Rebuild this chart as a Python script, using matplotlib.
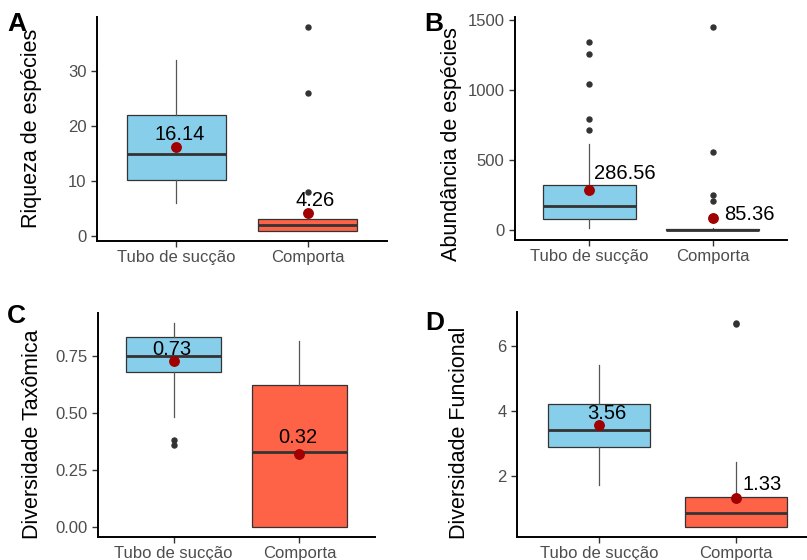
import matplotlib
matplotlib.use("Agg")
import matplotlib.pyplot as plt

plt.rcParams["font.family"] = ["Liberation Sans", "DejaVu Sans"]

groups = ["Tubo de sucção", "Comporta"]
box_colors = ["#87CEEB", "#FF6347"]

# five-number summaries per panel: (whislo, q1, med, q3, whishi) for each group
riqueza_stats = [(6.0, 10.2, 15.0, 22.0, 32.0), (1.0, 1.0, 2.0, 3.1, 4.0)]
riqueza_fliers = [[], [8.0, 26.0, 38.0]]
riqueza_means = [16.14, 4.26]

abund_stats = [(20.0, 85.0, 178.0, 326.0, 615.0), (4.0, 4.0, 6.0, 10.0, 15.0)]
abund_fliers = [[714.0, 798.0, 1048.0, 1262.0, 1343.0], [210.0, 250.0, 560.0, 1452.0]]
abund_means = [286.56, 85.36]

taxo_stats = [(0.484, 0.681, 0.752, 0.837, 0.897), (0.0, 0.0, 0.329, 0.625, 0.815)]
taxo_fliers = [[0.361, 0.379], []]
taxo_means = [0.73, 0.32]

func_stats = [(1.73, 2.91, 3.43, 4.22, 5.42), (0.45, 0.45, 0.87, 1.36, 2.44)]
func_fliers = [[], [6.65, 6.71]]
func_means = [3.56, 1.33]


def draw_panel(fig, rect, stats, fliers, means, ylabel, label_xy, yticks, ytick_fmt,
               letter, letter_xy, label_offsets, label_ha):
    ax = fig.add_axes(rect)
    bxp_stats = []
    for name, s, f in zip(groups, stats, fliers):
        bxp_stats.append({"label": name, "whislo": s[0], "q1": s[1], "med": s[2],
                          "q3": s[3], "whishi": s[4], "fliers": f})
    parts = ax.bxp(bxp_stats, positions=[1, 2], widths=0.75, patch_artist=True,
                   showcaps=False,
                   boxprops=dict(edgecolor="#333333", linewidth=0.9),
                   medianprops=dict(color="#333333", linewidth=2.0),
                   whiskerprops=dict(color="#555555", linewidth=0.9),
                   flierprops=dict(marker="o", markerfacecolor="#333333",
                                   markeredgecolor="#333333", markersize=3.6))
    for patch, c in zip(parts["boxes"], box_colors):
        patch.set_facecolor(c)
    ax.plot([1, 2], means, "o", color="#A00000", markersize=6.8, zorder=5)
    for x, m, off, ha in zip([1, 2], means, label_offsets, label_ha):
        ax.annotate(f"{m:.2f}", (x, m), xytext=off, textcoords="offset points",
                    ha=ha, va="baseline", fontsize=14.5, color="black", zorder=6)

    ax.set_xlim(0.4, 2.6)
    ax.margins(y=0.05)
    ax.set_yticks(yticks)
    ax.set_yticklabels([ytick_fmt.format(t) for t in yticks])
    ax.set_xticks([1, 2])
    ax.set_xticklabels(groups)
    ax.set_ylabel(ylabel, fontsize=15.5)
    ax.yaxis.set_label_coords(*label_xy)
    ax.tick_params(axis="both", labelsize=12, labelcolor="#4D4D4D",
                   color="#333333", length=4, width=1)
    ax.tick_params(axis="x", pad=2.5)
    for side in ["top", "right"]:
        ax.spines[side].set_visible(False)
    for side in ["left", "bottom"]:
        ax.spines[side].set_linewidth(1.4)
    fig.text(letter_xy[0] / 807, 1 - letter_xy[1] / 560, letter,
             fontsize=19, fontweight="bold", va="top", ha="left")
    return ax


fig = plt.figure(figsize=(8.07, 5.6), dpi=100)

draw_panel(fig, [97 / 807, 1 - 240.7 / 560, 290 / 807, 223.7 / 560],
           riqueza_stats, riqueza_fliers, riqueza_means,
           "Riqueza de espécies", (-0.19, 0.5), [0, 10, 20, 30], "{:g}",
           "A", (7, 12), [(2.5, 5), (5.5, 5)], ["center", "center"])

draw_panel(fig, [515 / 807, 1 - 240 / 560, 272 / 807, 223 / 560],
           abund_stats, abund_fliers, abund_means,
           "Abundância de espécies", (-0.195, 0.43), [0, 500, 1000, 1500], "{:g}",
           "B", (424, 12), [(3.5, 8), (8, -1)], ["left", "left"])

draw_panel(fig, [98 / 807, 1 - 536.7 / 560, 277 / 807, 224 / 560],
           taxo_stats, taxo_fliers, taxo_means,
           "Diversidade Taxômica", (-0.199, 0.458), [0, 0.25, 0.5, 0.75], "{:.2f}",
           "C", (7, 304), [(-1.5, 4.5), (-1, 8)], ["center", "center"])

draw_panel(fig, [517 / 807, 1 - 537 / 560, 301 / 807, 224.7 / 560],
           func_stats, func_fliers, func_means,
           "Diversidade Funcional", (-0.156, 0.465), [2, 4, 6], "{:g}",
           "D", (425, 311), [(5.5, 4.5), (5, 6)], ["center", "left"])

fig.savefig("out.png", dpi=100)
